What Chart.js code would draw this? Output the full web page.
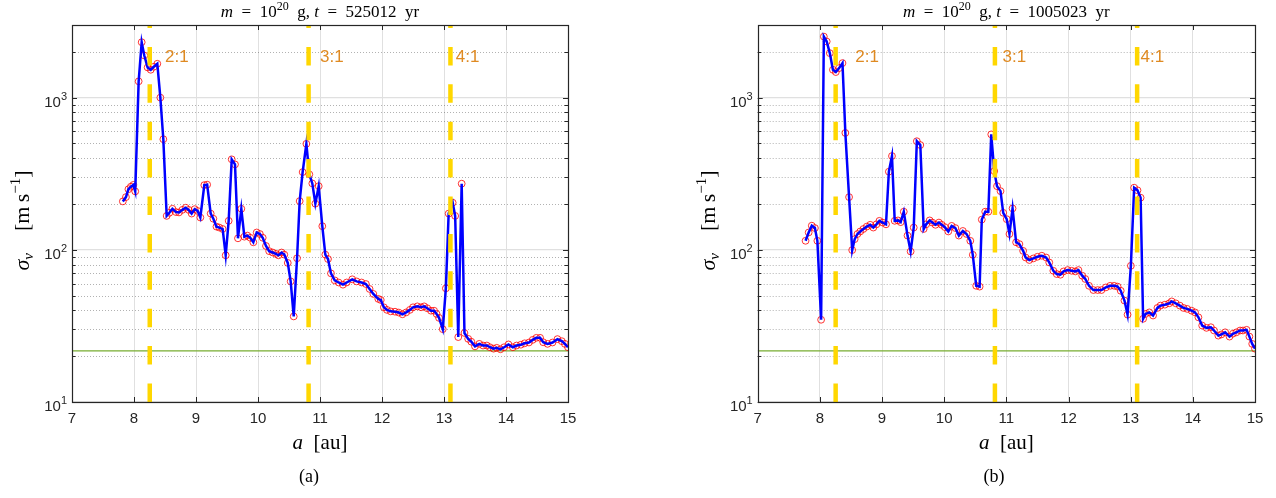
<!DOCTYPE html>
<html>
<head>
<meta charset="utf-8">
<script src="https://cdn.jsdelivr.net/npm/chart.js@4.4.0/dist/chart.umd.min.js"></script>
<style>
  body { margin: 0; background: #fff; width: 1276px; height: 498px; overflow: hidden; position: relative; }
  .panel { position: absolute; top: 0; width: 638px; height: 498px; }
</style>
</head>
<body>
<div class="panel" style="left:0"><canvas id="panelA" width="638" height="498"></canvas></div>
<div class="panel" style="left:638px"><canvas id="panelB" width="638" height="498"></canvas></div>
<script>
  const SERIF = '"Liberation Serif", "Times New Roman", serif';
  const SANS = '"Liberation Sans", Arial, sans-serif';
  const INK = '#262626';

  // semi-major axis [au] and velocity dispersion [m/s], t = 525012 yr
  const aA = [7.82, 7.87, 7.91, 7.95, 7.99, 8.02, 8.075, 8.124, 8.166, 8.22, 8.27, 8.32, 8.376, 8.425, 8.473,
    8.527, 8.57, 8.62, 8.677, 8.726, 8.78, 8.834, 8.882, 8.93, 8.979, 9.027, 9.07, 9.134, 9.18, 9.237, 9.28,
    9.33, 9.376, 9.43, 9.479, 9.527, 9.576, 9.629, 9.677, 9.731, 9.78, 9.828, 9.876, 9.925, 9.979, 10.03,
    10.076, 10.129, 10.18, 10.237, 10.29, 10.33, 10.38, 10.424, 10.48, 10.527, 10.576, 10.63, 10.672, 10.72,
    10.78, 10.828, 10.876, 10.925, 10.979, 11.037, 11.086, 11.129, 11.177, 11.237, 11.30, 11.37, 11.43, 11.52,
    11.59, 11.67, 11.74, 11.80, 11.86, 11.94, 11.98, 12.03, 12.08, 12.14, 12.21, 12.27, 12.33, 12.39, 12.45,
    12.5, 12.57, 12.63, 12.68, 12.73, 12.79, 12.84, 12.88, 12.92, 12.98, 13.03, 13.075, 13.14, 13.18, 13.23,
    13.285, 13.33, 13.39, 13.44, 13.50, 13.57, 13.63, 13.69, 13.74, 13.80, 13.85, 13.91, 13.97, 14.04, 14.11,
    14.17, 14.24, 14.30, 14.37, 14.43, 14.49, 14.55, 14.60, 14.67, 14.75, 14.83, 14.90, 14.95, 15.0];
  const sigmaA = [208, 222, 250, 260, 267, 242, 1279, 2312, 1892, 1578, 1524, 1595, 1669, 1000, 533,
    167, 175, 186, 177, 176, 183, 189, 183, 173, 185, 180, 163, 266, 268, 173, 160,
    142, 140, 137, 92, 155, 393, 364, 119, 186, 122, 124, 120, 112, 130, 127,
    120, 106, 98, 96, 94, 92, 96, 93, 82, 62, 36.5, 88, 209, 324,
    497, 313, 273, 201, 262, 143, 93, 87, 70, 63, 61, 59, 61, 64,
    62, 61, 59.6, 55.3, 51.3, 47.6, 46.8, 41.9, 40.3, 39.4, 39.2, 38.7, 37.7, 38.8, 40.3,
    41.9, 42.5, 41.9, 42.5, 41.3, 39.8, 39.8, 37.9, 35.7, 30.1, 55.8, 173, 204, 167, 26.7,
    272, 28.4, 26, 24.9, 23.2, 24.1, 23.5, 23.5, 22.9, 22.4, 22.7, 22.2, 22.9, 23.9, 22.9,
    23.5, 23.8, 24.3, 24.6, 25.6, 26.4, 26.4, 24.7, 24.1, 24.6, 25.9, 25.1, 24.1, 22.9];

  // same quantities at t = 1005023 yr
  const aB = [7.77, 7.82, 7.87, 7.92, 7.96, 8.02, 8.064, 8.11, 8.16, 8.21, 8.257, 8.31, 8.364, 8.41, 8.47,
    8.52, 8.56, 8.605, 8.65, 8.70, 8.754, 8.81, 8.86, 8.91, 8.958, 9.01, 9.064, 9.11, 9.16, 9.204, 9.257,
    9.30, 9.35, 9.41, 9.46, 9.51, 9.56, 9.616, 9.67, 9.71, 9.766, 9.81, 9.86, 9.915, 9.96, 10.01, 10.066,
    10.12, 10.18, 10.236, 10.30, 10.36, 10.42, 10.46, 10.515, 10.57, 10.605, 10.66, 10.71, 10.757, 10.805,
    10.85, 10.906, 10.95, 11.006, 11.05, 11.10, 11.157, 11.21, 11.27, 11.31, 11.37, 11.435, 11.50, 11.57,
    11.64, 11.69, 11.756, 11.81, 11.87, 11.92, 11.986, 12.05, 12.11, 12.16, 12.22, 12.27, 12.33, 12.40,
    12.47, 12.53, 12.60, 12.67, 12.735, 12.79, 12.84, 12.90, 12.95, 13.003, 13.056, 13.11, 13.16, 13.2,
    13.24, 13.30, 13.36, 13.43, 13.48, 13.55, 13.62, 13.66, 13.725, 13.79, 13.85, 13.91, 13.98, 14.035,
    14.09, 14.15, 14.22, 14.29, 14.34, 14.41, 14.46, 14.52, 14.59, 14.645, 14.70, 14.76, 14.806, 14.865,
    14.91, 14.955, 15.0];
  const sigmaB = [114.6, 130, 144, 139, 114.6, 34.7, 2518, 2337, 1960, 1524, 1472, 1563, 1686, 586, 222,
    99.6, 117.5, 127, 132, 137, 142, 146, 140, 147, 155, 151, 147, 326, 413, 155, 156,
    152, 178, 124, 97.5, 140, 517, 488, 137, 147, 156, 151, 146, 151, 146, 141, 132,
    143.6, 139, 124, 133, 127, 114.6, 92.7, 58, 57.3, 158, 178, 178, 573, 329,
    262, 243, 175, 159, 127, 187, 112, 109, 98.4, 89, 85.7, 87.8, 90, 91.4,
    89, 82.6, 72.8, 69.3, 68.6, 72.1, 73.6, 72.8, 72.1, 73.6, 67.6, 64.3, 58, 54.4,
    54.4, 54.4, 56.6, 58, 58, 57.3, 53.8, 46.4, 37.5, 78.5, 256, 246, 220, 35.2,
    37.9, 38.8, 37, 41.5, 43, 43.6, 44.5, 45.8, 44.5, 43, 41.5, 40.9, 39.8, 38.8,
    36, 31.8, 30.7, 31, 29.5, 27.3, 27.8, 28.7, 26.9, 28.1, 28.7, 29.5, 29.5, 29.8,
    26.9, 24.1, 22.4];

  // mean-motion resonances with Jupiter
  const resonanceA = [8.254, 10.816, 13.104];
  const resonanceNames = ['2:1', '3:1', '4:1'];
  const resonanceTextA = [8.5, 11.0, 13.19];
  const resonanceTextB = [8.57, 10.94, 13.16];
  const resonanceTextY = 1840;

  const sigmaFloor = 21.7;
  const xTicks = [7, 8, 9, 10, 11, 12, 13, 14, 15];
  const yDecades = [10, 100, 1000];
  const yMin = 10, yMax = 3000;

  function richText(ctx, parts, x, y, align) {
    let w = 0;
    parts.forEach(p => { ctx.font = p.font; w += ctx.measureText(p.t).width; });
    let cx = align === 'center' ? x - w / 2 : (align === 'right' ? x - w : x);
    ctx.textAlign = 'left';
    ctx.textBaseline = 'alphabetic';
    parts.forEach(p => {
      ctx.font = p.font;
      ctx.fillText(p.t, cx, y + (p.dy || 0));
      cx += ctx.measureText(p.t).width;
    });
  }

  function minorValues() {
    const out = [];
    yDecades.forEach(d => {
      for (let k = 2; k <= 9; k++) {
        if (d * k < yMax) out.push(d * k);
      }
    });
    return out;
  }

  const axesDecor = {
    id: 'axesDecor',
    beforeDatasetsDraw(chart, args, opts) {
      const { ctx, chartArea: ca, scales: { y } } = chart;
      ctx.save();
      ctx.strokeStyle = 'rgba(0,0,0,0.3)';
      ctx.lineWidth = 1;
      ctx.setLineDash([1, 2]);
      minorValues().forEach(v => {
        const py = Math.round(y.getPixelForValue(v)) + 0.5;
        ctx.beginPath();
        ctx.moveTo(ca.left, py);
        ctx.lineTo(ca.right, py);
        ctx.stroke();
      });
      ctx.restore();
    },
    afterDraw(chart, args, opts) {
      const { ctx, chartArea: ca, scales: { x, y } } = chart;
      ctx.save();
      ctx.fillStyle = INK;
      ctx.strokeStyle = INK;
      ctx.lineWidth = 1.2;

      // box
      ctx.strokeRect(Math.round(ca.left) + 0.5, Math.round(ca.top) + 0.5,
        Math.round(ca.right - ca.left), Math.round(ca.bottom - ca.top));

      // inward ticks
      ctx.lineWidth = 1;
      ctx.beginPath();
      xTicks.forEach(v => {
        const px = Math.round(x.getPixelForValue(v)) + 0.5;
        ctx.moveTo(px, ca.bottom); ctx.lineTo(px, ca.bottom - 5);
        ctx.moveTo(px, ca.top); ctx.lineTo(px, ca.top + 5);
      });
      yDecades.forEach(v => {
        const py = Math.round(y.getPixelForValue(v)) + 0.5;
        ctx.moveTo(ca.left, py); ctx.lineTo(ca.left + 5, py);
        ctx.moveTo(ca.right, py); ctx.lineTo(ca.right - 5, py);
      });
      minorValues().forEach(v => {
        const py = Math.round(y.getPixelForValue(v)) + 0.5;
        ctx.moveTo(ca.left, py); ctx.lineTo(ca.left + 3.5, py);
        ctx.moveTo(ca.right, py); ctx.lineTo(ca.right - 3.5, py);
      });
      ctx.stroke();

      // y tick labels 10^n
      yDecades.forEach(v => {
        const py = y.getPixelForValue(v);
        richText(ctx, [
          { t: '10', font: `15px ${SANS}` },
          { t: String(Math.round(Math.log10(v))), font: `11px ${SANS}`, dy: -7 }
        ], ca.left - 5, py + 9, 'right');
      });

      // resonance labels
      ctx.fillStyle = '#df8a22';
      ctx.font = `17px ${SANS}`;
      ctx.textAlign = 'left';
      ctx.textBaseline = 'middle';
      resonanceNames.forEach((name, i) => {
        ctx.fillText(name, x.getPixelForValue(opts.labelX[i]), y.getPixelForValue(resonanceTextY));
      });

      ctx.fillStyle = '#000';
      const cx = (ca.left + ca.right) / 2;

      // title
      richText(ctx, [
        { t: 'm', font: `italic 17px ${SERIF}` },
        { t: '\u2002=\u200210', font: `17px ${SERIF}` },
        { t: '20', font: `12px ${SERIF}`, dy: -7 },
        { t: '\u2002g, ', font: `17px ${SERIF}` },
        { t: 't', font: `italic 17px ${SERIF}` },
        { t: '\u2002=\u2002' + opts.years + '\u2002yr', font: `17px ${SERIF}` }
      ], cx, 17, 'center');

      // x axis title
      richText(ctx, [
        { t: 'a', font: `italic 21px ${SERIF}` },
        { t: '\u2002[au]', font: `21px ${SERIF}` }
      ], cx, 449, 'center');

      // y axis title
      ctx.save();
      ctx.translate(ca.left - 50, (ca.top + ca.bottom) / 2 + 7);
      ctx.rotate(-Math.PI / 2);
      richText(ctx, [
        { t: '\u03c3', font: `italic 22px ${SERIF}` },
        { t: 'v', font: `italic 15px ${SERIF}`, dy: 4 },
        { t: '\u2003[m\u2009s', font: `22px ${SERIF}` },
        { t: '\u22121', font: `15px ${SERIF}`, dy: -9 },
        { t: ']', font: `22px ${SERIF}` }
      ], 0, 7, 'center');
      ctx.restore();

      // caption
      richText(ctx, [{ t: opts.caption, font: `18px ${SERIF}` }], opts.captionX, 482, 'center');
      ctx.restore();
    }
  };

  function makePanel(canvasId, a, sigma, textX, years, caption, yWidth, padRight, captionX) {
    const pts = a.map((v, i) => ({ x: v, y: sigma[i] }));
    const resonanceSets = resonanceA.map(r => ({
      data: [{ x: r, y: yMin }, { x: r, y: yMax }],
      borderColor: '#ffd700',
      borderWidth: 4.5,
      borderDash: [18.5, 18.9],
      pointRadius: 0,
      order: 0
    }));
    return new Chart(document.getElementById(canvasId).getContext('2d'), {
      type: 'line',
      data: {
        datasets: [
          ...resonanceSets,
          {
            data: pts,
            borderColor: '#0000ff',
            borderWidth: 2.5,
            pointRadius: 0,
            order: 1
          },
          {
            data: pts,
            showLine: false,
            pointRadius: 3.4,
            pointBorderWidth: 1,
            pointBorderColor: 'rgba(255,0,0,0.8)',
            pointBackgroundColor: 'rgba(0,0,0,0)',
            order: 2
          },
          {
            data: [{ x: 7, y: sigmaFloor }, { x: 15, y: sigmaFloor }],
            borderColor: '#77ac30',
            borderWidth: 1.3,
            pointRadius: 0,
            order: 3
          }
        ]
      },
      options: {
        responsive: false,
        animation: false,
        events: [],
        layout: { padding: { top: 25, right: padRight, left: 0, bottom: 0 } },
        plugins: {
          legend: { display: false },
          tooltip: { enabled: false },
          axesDecor: { labelX: textX, years: years, caption: caption, captionX: captionX }
        },
        scales: {
          x: {
            type: 'linear',
            min: 7,
            max: 15,
            afterBuildTicks: s => { s.ticks = xTicks.map(v => ({ value: v })); },
            afterFit: s => { s.height = 96; },
            ticks: { font: { family: SANS, size: 15 }, color: INK, padding: 8, maxRotation: 0 },
            grid: {
              drawTicks: false,
              color: c => (c.tick && c.tick.value > 7 && c.tick.value < 15) ? '#e0e0e0' : 'rgba(0,0,0,0)'
            },
            border: { display: false }
          },
          y: {
            type: 'logarithmic',
            min: yMin,
            max: yMax,
            afterBuildTicks: s => { s.ticks = yDecades.map(v => ({ value: v })); },
            afterFit: s => { s.width = yWidth; },
            ticks: { display: false },
            grid: { drawTicks: false, color: '#e0e0e0', lineWidth: 1.3 },
            border: { display: false }
          }
        }
      },
      plugins: [axesDecor]
    });
  }

  makePanel('panelA', aA, sigmaA, resonanceTextA, '525012', '(a)', 72, 70, 309);
  makePanel('panelB', aB, sigmaB, resonanceTextB, '1005023', '(b)', 119.7, 21, 356);
</script>
</body>
</html>
